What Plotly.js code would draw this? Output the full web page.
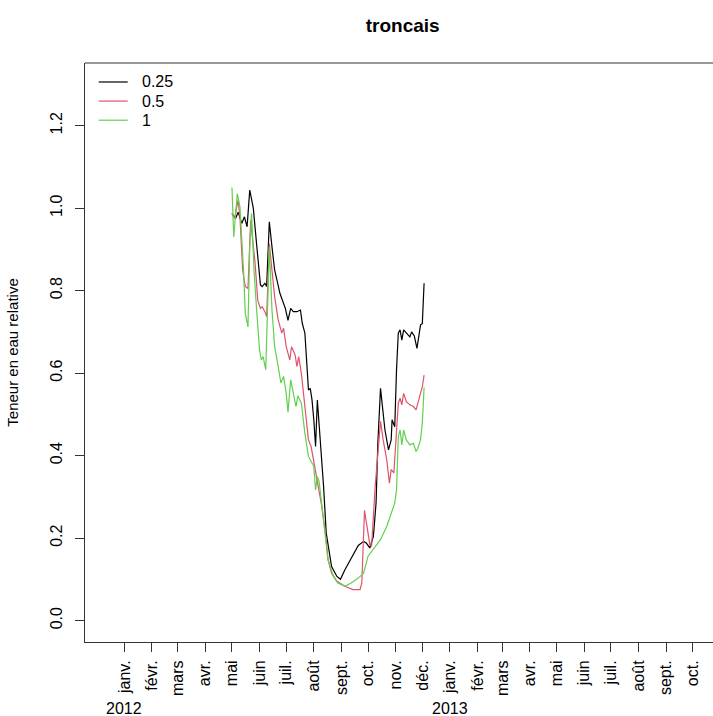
<!DOCTYPE html>
<html>
<head>
<meta charset="utf-8">
<script src="https://cdn.plot.ly/plotly-3.0.1.min.js"></script>
<style>
  html, body { margin: 0; padding: 0; overflow: hidden; background: #fff; }
  #chart { width: 713px; height: 716px; }
</style>
</head>
<body>
<div id="chart"></div>
<script>
// ---------- data ----------
const chartTitle = "troncais";
const yTitle = "Teneur en eau relative";
const seriesNames = ["0.25", "0.5", "1"];
const seriesColors = ["#000000", "#DF536B", "#61D04F"];

const datesA = ["2012-05-01","2012-05-05","2012-05-08","2012-05-12","2012-05-15","2012-05-18","2012-05-21","2012-05-25","2012-05-29","2012-06-02","2012-06-04","2012-06-07","2012-06-09","2012-06-12","2012-06-15","2012-06-18","2012-06-24","2012-06-30","2012-07-03","2012-07-06","2012-07-09","2012-07-13","2012-07-17","2012-07-19","2012-07-22","2012-07-24","2012-07-26","2012-07-28","2012-07-30","2012-08-01","2012-08-03","2012-08-05","2012-08-08","2012-08-12","2012-08-15","2012-08-21","2012-08-27","2012-08-31","2012-09-05","2012-09-12","2012-09-20","2012-09-26","2012-09-29","2012-10-03","2012-10-07","2012-10-10","2012-10-12","2012-10-15","2012-10-17","2012-10-20","2012-10-24","2012-10-27","2012-10-28","2012-10-31","2012-11-02","2012-11-04","2012-11-06","2012-11-08","2012-11-10","2012-11-13","2012-11-17","2012-11-19","2012-11-22","2012-11-25","2012-11-27","2012-11-29","2012-12-01","2012-12-03"];
const valuesA = [0.987,0.975,0.99,0.963,0.979,0.955,1.044,1.0,0.906,0.814,0.81,0.818,0.81,0.967,0.906,0.85,0.793,0.757,0.728,0.757,0.749,0.749,0.753,0.721,0.697,0.624,0.559,0.563,0.535,0.487,0.422,0.535,0.454,0.325,0.212,0.131,0.107,0.10,0.123,0.152,0.182,0.192,0.188,0.176,0.204,0.285,0.43,0.563,0.519,0.462,0.414,0.438,0.487,0.47,0.608,0.697,0.705,0.68,0.705,0.697,0.688,0.70,0.69,0.66,0.688,0.717,0.72,0.818];

const datesB = ["2012-05-01","2012-05-04","2012-05-08","2012-05-10","2012-05-13","2012-05-16","2012-05-19","2012-05-22","2012-05-27","2012-05-30","2012-06-02","2012-06-04","2012-06-07","2012-06-09","2012-06-12","2012-06-15","2012-06-18","2012-06-22","2012-06-26","2012-06-28","2012-07-01","2012-07-05","2012-07-07","2012-07-11","2012-07-13","2012-07-15","2012-07-18","2012-07-22","2012-07-26","2012-07-29","2012-08-01","2012-08-03","2012-08-06","2012-08-10","2012-08-14","2012-08-17","2012-08-21","2012-08-27","2012-09-05","2012-09-14","2012-09-22","2012-09-24","2012-09-27","2012-10-03","2012-10-05","2012-10-09","2012-10-12","2012-10-15","2012-10-18","2012-10-22","2012-10-25","2012-10-27","2012-10-30","2012-11-02","2012-11-04","2012-11-06","2012-11-08","2012-11-10","2012-11-13","2012-11-17","2012-11-21","2012-11-24","2012-11-26","2012-11-29","2012-12-01","2012-12-03"];
const valuesB = [0.987,0.975,1.02,0.979,0.85,0.81,0.805,0.97,0.867,0.777,0.757,0.761,0.749,0.737,0.914,0.85,0.785,0.729,0.697,0.709,0.664,0.632,0.664,0.644,0.616,0.64,0.60,0.519,0.438,0.422,0.382,0.358,0.325,0.277,0.212,0.148,0.115,0.095,0.083,0.075,0.075,0.091,0.267,0.184,0.18,0.325,0.414,0.483,0.438,0.39,0.333,0.366,0.358,0.446,0.527,0.539,0.523,0.551,0.531,0.523,0.519,0.511,0.527,0.551,0.567,0.595];

const datesC = ["2012-05-01","2012-05-03","2012-05-07","2012-05-10","2012-05-14","2012-05-16","2012-05-19","2012-05-21","2012-05-23","2012-05-26","2012-05-29","2012-06-01","2012-06-03","2012-06-05","2012-06-08","2012-06-10","2012-06-12","2012-06-15","2012-06-18","2012-06-22","2012-06-25","2012-06-28","2012-07-01","2012-07-03","2012-07-06","2012-07-09","2012-07-12","2012-07-14","2012-07-18","2012-07-22","2012-07-26","2012-07-28","2012-08-01","2012-08-03","2012-08-05","2012-08-07","2012-08-10","2012-08-14","2012-08-17","2012-08-23","2012-08-28","2012-09-05","2012-09-12","2012-09-20","2012-09-26","2012-10-01","2012-10-07","2012-10-15","2012-10-22","2012-10-27","2012-10-31","2012-11-02","2012-11-04","2012-11-06","2012-11-08","2012-11-10","2012-11-13","2012-11-17","2012-11-21","2012-11-24","2012-11-26","2012-11-29","2012-12-01","2012-12-03"];
const valuesC = [1.05,0.93,1.035,1.003,0.85,0.745,0.712,0.906,0.987,0.842,0.745,0.656,0.632,0.64,0.608,0.745,0.906,0.753,0.664,0.616,0.576,0.592,0.551,0.505,0.584,0.551,0.519,0.545,0.527,0.454,0.398,0.39,0.374,0.317,0.349,0.337,0.277,0.212,0.148,0.107,0.091,0.083,0.091,0.103,0.115,0.156,0.172,0.196,0.228,0.26,0.285,0.317,0.446,0.462,0.426,0.462,0.438,0.426,0.43,0.41,0.418,0.438,0.479,0.565];

const monthTickDates = ["2012-01-01","2012-02-01","2012-03-01","2012-04-01","2012-05-01","2012-06-01","2012-07-01","2012-08-01","2012-09-01","2012-10-01","2012-11-01","2012-12-01","2013-01-01","2013-02-01","2013-03-01","2013-04-01","2013-05-01","2013-06-01","2013-07-01","2013-08-01","2013-09-01","2013-10-01"];
const monthTickLabels = ["janv.","févr.","mars","avr.","mai","juin","juil.","août","sept.","oct.","nov.","déc.","janv.","févr.","mars","avr.","mai","juin","juil.","août","sept.","oct."];
const yearTickDates = ["2012-01-01","2013-01-01"];
const yearTickLabels = ["2012","2013"];
const yTickVals = [0, 0.2, 0.4, 0.6, 0.8, 1.0, 1.2];

// ---------- chart ----------
const FONT = "Liberation Sans, Arial, Helvetica, sans-serif";
const allDates = [datesA, datesB, datesC];
const allValues = [valuesA, valuesB, valuesC];

const traces = seriesNames.map((name, i) => ({
  type: "scatter",
  mode: "lines",
  name: name,
  x: allDates[i],
  y: allValues[i],
  line: { color: seriesColors[i], width: 1.2 },
  hoverinfo: "skip",
  showlegend: false
}));

// year labels under the month ticks
const annotations = yearTickLabels.map((t, i) => ({
  text: t,
  x: yearTickDates[i],
  xref: "x",
  y: -0.1157,
  yref: "paper",
  xanchor: "center",
  yanchor: "middle",
  showarrow: false,
  font: { family: FONT, size: 16, color: "#000" }
}));

// top frame line (plot box is open on the right, cut by the picture edge)
const shapes = [{
  type: "line", xref: "paper", yref: "paper",
  x0: 0, x1: 1, y0: 1, y1: 1,
  line: { color: "#333", width: 1 }
}];

// legend (R style: line sample + label, no box)
const legX0 = 0.0218, legX1 = 0.068, legTextX = 0.0876;
const legY0 = 0.9672, legStep = 0.0330;
seriesNames.forEach((name, i) => {
  const yy = legY0 - i * legStep;
  shapes.push({
    type: "line", xref: "paper", yref: "paper",
    x0: legX0, x1: legX1, y0: yy, y1: yy,
    line: { color: seriesColors[i], width: 1.2 }
  });
  annotations.push({
    text: name, xref: "paper", yref: "paper",
    x: legTextX, y: yy, xanchor: "left", yanchor: "middle",
    showarrow: false,
    font: { family: FONT, size: 16, color: "#000" }
  });
});

const layout = {
  width: 713,
  height: 716,
  paper_bgcolor: "#fff",
  plot_bgcolor: "#fff",
  margin: { l: 85, r: 0, t: 63, b: 74, pad: 0 },
  showlegend: false,
  title: {
    text: "<b>" + chartTitle + "</b>",
    x: 402.7 / 713, xref: "container", xanchor: "center",
    y: 1 - 25 / 716, yref: "container", yanchor: "middle",
    font: { family: FONT, size: 19, color: "#000" }
  },
  xaxis: {
    type: "date",
    range: ["2011-11-17 19:00", "2013-10-23 19:00"],
    tickmode: "array",
    tickvals: monthTickDates,
    ticktext: monthTickLabels,
    tickangle: -90,
    ticks: "outside",
    ticklen: 9,
    tickwidth: 1,
    tickcolor: "#333",
    ticklabelstandoff: 2,
    showline: true,
    linecolor: "#333",
    linewidth: 1,
    mirror: false,
    showgrid: false,
    zeroline: false,
    tickfont: { family: FONT, size: 16, color: "#000" }
  },
  yaxis: {
    range: [-0.052, 1.352],
    tickmode: "array",
    tickvals: yTickVals,
    tickformat: ".1f",
    tickangle: -90,
    ticks: "outside",
    ticklen: 9,
    tickwidth: 1,
    tickcolor: "#333",
    ticklabelstandoff: 7,
    showline: true,
    linecolor: "#333",
    linewidth: 1,
    mirror: false,
    showgrid: false,
    zeroline: false,
    tickfont: { family: FONT, size: 16, color: "#000" },
    title: {
      text: yTitle,
      standoff: 25,
      font: { family: FONT, size: 15, color: "#000" }
    }
  },
  shapes: shapes,
  annotations: annotations
};

Plotly.newPlot("chart", traces, layout, { displayModeBar: false, staticPlot: true });
</script>
</body>
</html>
